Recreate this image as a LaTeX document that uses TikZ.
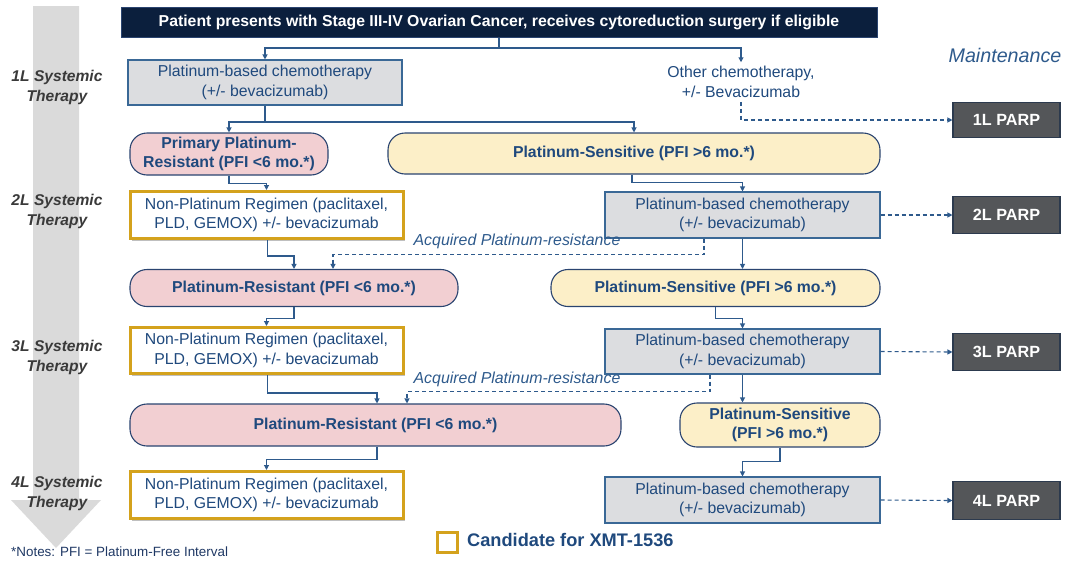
\documentclass[tikz,border=0pt]{standalone}
\usepackage{fontspec}
\setmainfont{Liberation Sans}
\usetikzlibrary{arrows.meta,shadows}
\definecolor{navy}{HTML}{0B1F3D}
\definecolor{tblue}{HTML}{1F497D}
\definecolor{lblue}{HTML}{2E5A8C}
\definecolor{edgeblue}{HTML}{3A6896}
\definecolor{darkedge}{HTML}{2A4470}
\definecolor{boxgrey}{HTML}{DCDDE0}
\definecolor{pinkf}{HTML}{F2CFD2}
\definecolor{yellowf}{HTML}{FCEFC8}
\definecolor{gold}{HTML}{D4A21C}
\definecolor{parpf}{HTML}{545659}
\definecolor{parpedge}{HTML}{2C3A4E}
\definecolor{bandgrey}{HTML}{DADADA}
\definecolor{labgrey}{HTML}{3A3A3A}
\definecolor{notecol}{HTML}{1F3864}
\tikzset{
  base/.style={inner sep=0pt, align=center, text=tblue, font=\fontsize{15.8}{19.5}\selectfont},
  titlebox/.style={base, fill=navy, draw=darkedge, line width=1pt, text=white, font=\bfseries\fontsize{15.8}{18}\selectfont},
  greybox/.style={base, fill=boxgrey, draw=edgeblue, line width=1.1pt},
  pinkbox/.style={base, fill=pinkf, draw=darkedge, line width=1.1pt, rounded corners=17pt, font=\bfseries\fontsize{15.8}{19.5}\selectfont},
  yellowbox/.style={base, fill=yellowf, draw=darkedge, line width=1.1pt, rounded corners=17pt, font=\bfseries\fontsize{15.8}{19.5}\selectfont},
  goldbox/.style={base, fill=white, draw=gold, line width=3pt, drop shadow={shadow xshift=2pt, shadow yshift=-2pt, opacity=0.25, fill=black}},
  parpbox/.style={base, fill=parpf, draw=parpedge, line width=1.1pt, text=white, font=\bfseries\fontsize{16.2}{18}\selectfont, minimum width=107pt},
  linelab/.style={align=center, text=labgrey, font=\bfseries\itshape\fontsize{15.6}{20}\selectfont},
  acqlab/.style={text=lblue, font=\itshape\fontsize{15.9}{18}\selectfont, inner sep=0pt},
  conn/.style={draw=lblue, line width=1.1pt, -{Triangle[length=5pt,width=5pt]}},
  plain/.style={draw=lblue, line width=1.1pt},
  dconn/.style={draw=lblue, line width=1.1pt, dash pattern=on 4pt off 3pt, -{Triangle[length=5pt,width=5pt]}}
}
\begin{document}
\begin{tikzpicture}[x=1pt,y=-1pt]
\useasboundingbox (0,0) rectangle (1066,560);
% grey progression arrow
\fill[bandgrey] (33,6) -- (79,6) -- (79,500) -- (101,500) -- (56,548) -- (11,500) -- (33,500) -- cycle;
\node[linelab] (l1) at (57,87) {1L Systemic\\Therapy};
\node[linelab] (l2) at (57,211) {2L Systemic\\Therapy};
\node[linelab] (l3) at (57,357) {3L Systemic\\Therapy};
\node[linelab] (l4) at (57,493) {4L Systemic\\Therapy};
\node[text=lblue, font=\itshape\fontsize{19.7}{22}\selectfont] (maint) at (1005,55) {Maintenance};

% nodes
\node[titlebox, minimum width=756pt, minimum height=30pt] (title) at (499,22) {Patient presents with Stage III-IV Ovarian Cancer, receives cytoreduction surgery if eligible};
\node[greybox, minimum width=274pt, minimum height=45pt] (pc1) at (265,82.5) {Platinum-based chemotherapy\\(+/- bevacizumab)};
\node[base, inner sep=4pt] (other) at (741,82) {Other chemotherapy,\\+/- Bevacizumab};
\node[parpbox, minimum height=35pt] (parp1) at (1006.5,120) {1L PARP};

\node[pinkbox, minimum width=198pt, minimum height=42pt] (prr) at (229,154) {Primary Platinum-\\Resistant (PFI <6 mo.*)};
\node[yellowbox, minimum width=492pt, minimum height=41pt] (ps2) at (634,153.5) {Platinum-Sensitive (PFI >6 mo.*)};
\node[goldbox, minimum width=273pt, minimum height=47pt] (np2) at (266.5,215) {Non-Platinum Regimen (paclitaxel,\\PLD, GEMOX) +/- bevacizumab};
\node[greybox, minimum width=275pt, minimum height=46pt] (pc2) at (742.5,215) {Platinum-based chemotherapy\\(+/- bevacizumab)};
\node[parpbox, minimum height=37pt] (parp2) at (1006.5,215) {2L PARP};

\node[pinkbox, minimum width=328pt, minimum height=37pt] (pr3) at (294,288) {Platinum-Resistant (PFI <6 mo.*)};
\node[yellowbox, minimum width=329pt, minimum height=37pt] (ps3) at (715.5,288) {Platinum-Sensitive (PFI >6 mo.*)};
\node[goldbox, minimum width=273pt, minimum height=46pt] (np3) at (266.5,350.5) {Non-Platinum Regimen (paclitaxel,\\PLD, GEMOX) +/- bevacizumab};
\node[greybox, minimum width=275pt, minimum height=45pt] (pc3) at (742.5,351.5) {Platinum-based chemotherapy\\(+/- bevacizumab)};
\node[parpbox, minimum height=37pt] (parp3) at (1006.5,352) {3L PARP};

\node[pinkbox, minimum width=491pt, minimum height=42pt] (pr4) at (375.5,425) {Platinum-Resistant (PFI <6 mo.*)};
\node[yellowbox, minimum width=200pt, minimum height=44pt] (ps4) at (780,425) {Platinum-Sensitive\\(PFI >6 mo.*)};
\node[goldbox, minimum width=273pt, minimum height=47pt] (np4) at (266.5,495) {Non-Platinum Regimen (paclitaxel,\\PLD, GEMOX) +/- bevacizumab};
\node[greybox, minimum width=275pt, minimum height=46pt] (pc4) at (742.5,500) {Platinum-based chemotherapy\\(+/- bevacizumab)};
\node[parpbox, minimum height=38pt] (parp4) at (1006.5,500.5) {4L PARP};

\node[acqlab] (acq2) at (517,241) {Acquired Platinum-resistance};
\node[acqlab] (acq3) at (517,379) {Acquired Platinum-resistance};

% legend and notes
\node[draw=gold, line width=3pt, minimum size=20pt, inner sep=0pt] (legbox) at (447,542) {};
\node[anchor=west, text=tblue, font=\bfseries\fontsize{18.2}{21}\selectfont, inner sep=0pt] (legtext) at (467,540) {Candidate for XMT-1536};
\node[anchor=west, text=notecol, font=\fontsize{13.4}{15}\selectfont, inner sep=0pt] (notes) at (11,552) {*Notes: PFI = Platinum-Free Interval};

% connectors
\coordinate (j1) at (499,48);
\draw[plain] (title.south) -- (j1);
\draw[conn] (j1) -| (pc1.north);
\draw[conn] (j1) -| (other.north);
\draw[dconn] (other.south) |- (parp1.west);

\coordinate (j2) at (265,122);
\draw[plain] (pc1.south) -- (j2);
\draw[conn] (j2) -| (prr.north);
\draw[conn] (j2) -| (ps2.north);

\draw[conn] (prr.south) -- ++(0,8) -| (np2.north);
\draw[conn] ([xshift=-2pt]ps2.south) -- ++(0,8) -| (pc2.north);
\draw[conn] ([xshift=1pt]np2.south) -- ++(0,16) -| (pr3.north);
\draw[dconn] ([xshift=-38.5pt]pc2.south) -- ++(0,16) -| ([xshift=39pt]pr3.north);
\draw[dconn] (pc2.east) -- (parp2.west);
\draw[conn] (pc2.south) -- (pc2.south |- ps3.north);

\draw[conn] (pr3.south) -- ++(0,11) -| (np3.north);
\draw[conn] (ps3.south) -- ++(0,11) -| (pc3.north);
\draw[conn] ([xshift=1pt]np3.south) -- ++(0,18) -| ([xshift=1.5pt]pr4.north);
\draw[dconn] ([xshift=-32.5pt]pc3.south) -- ++(0,17) -| ([xshift=31.5pt]pr4.north);
\draw[dconn] (pc3.east) -- (parp3.west);
\draw[conn] (pc3.south) -- (pc3.south |- ps4.north);

\draw[conn] ([xshift=1.5pt]pr4.south) -- ++(0,13) -| (np4.north);
\draw[conn] (ps4.south) -- ++(0,14) -| (pc4.north);
\draw[dconn] (pc4.east) -- (parp4.west);
\end{tikzpicture}
\end{document}
